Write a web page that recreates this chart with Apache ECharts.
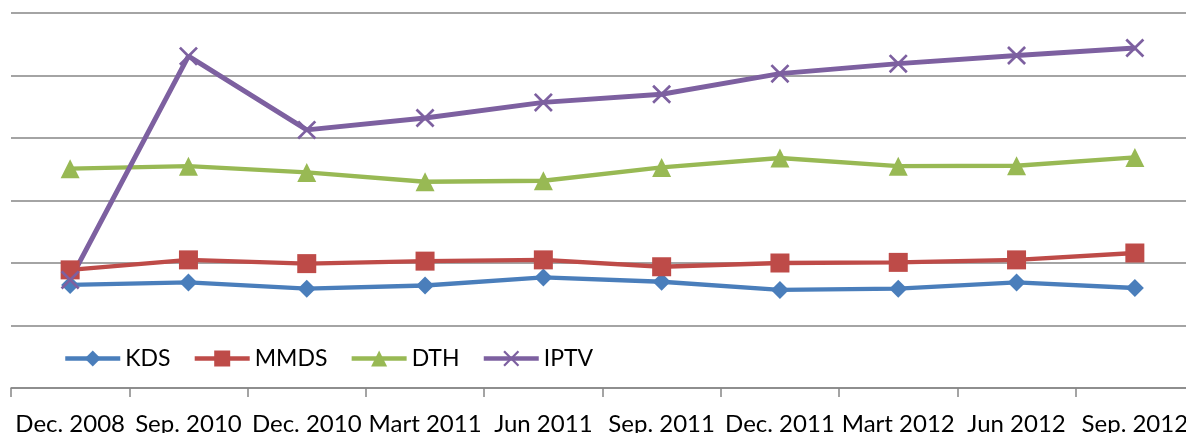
<!DOCTYPE html>
<html><head><meta charset="utf-8">
<script src="https://cdn.jsdelivr.net/npm/echarts@6/dist/echarts.min.js"></script>
<style>html,body{margin:0;padding:0;background:#fff;overflow:hidden}#c{width:1186px;height:433px}</style>
</head><body><div id="c"></div>
<script>
var categories = ['Dec. 2008','Sep. 2010','Dec. 2010','Mart 2011','Jun 2011','Sep. 2011','Dec. 2011','Mart 2012','Jun 2012','Sep. 2012'];
var kds  = [1.65, 1.69, 1.59, 1.64, 1.77, 1.70, 1.57, 1.59, 1.69, 1.60];
var mmds = [1.89, 2.05, 1.99, 2.03, 2.05, 1.94, 2.00, 2.01, 2.05, 2.16];
var dth  = [3.51, 3.55, 3.45, 3.30, 3.315, 3.53, 3.68, 3.55, 3.555, 3.69];
var iptv = [1.73, 5.31, 4.13, 4.32, 4.57, 4.70, 5.03, 5.19, 5.32, 5.44];

var FONT = 'Lato';
var crossPath = 'path://M0,1 L1,0 L5,4 L9,0 L10,1 L6,5 L10,9 L9,10 L5,6 L1,10 L0,9 L4,5 Z';
function mk(name, data, color, symbol, size, width){
  return {name:name, type:'line', data:data, symbol:symbol, symbolSize:size,
    lineStyle:{color:color, width:width}, itemStyle:{color:color},
    animation:false};
}
var chart = echarts.init(document.getElementById('c'), null, {renderer:'canvas'});
chart.setOption({
  animation:false,
  grid:{left:11, top:13, height:375, width:1183, containLabel:false, outerBoundsMode:'none'},
  legend:{left:63, top:347, padding:0, itemWidth:55, itemHeight:20, itemGap:22,
    lineStyle:{width:4.5},
    textStyle:{fontFamily:FONT, fontSize:23, color:'#000'},
    data:['KDS','MMDS','DTH','IPTV']},
  xAxis:{type:'category', data:categories, boundaryGap:true,
    axisLine:{lineStyle:{color:'#868686', width:1.5}},
    axisTick:{show:true, length:9, interval:0, lineStyle:{color:'#868686', width:1.5}},
    axisLabel:{interval:0, margin:24, fontFamily:FONT, fontSize:24, color:'#000'},
    splitLine:{show:false}},
  yAxis:{type:'value', min:0, max:6, interval:1,
    axisLine:{show:false}, axisTick:{show:false}, axisLabel:{show:false},
    splitLine:{lineStyle:{color:'#868686', width:1.5}}},
  series:[
    mk('KDS', kds, '#4A7EBB', 'diamond', 18, 4.5),
    mk('MMDS', mmds, '#BE4B48', 'rect', 19, 4.5),
    mk('DTH', dth, '#98B954', 'triangle', 19, 4.5),
    mk('IPTV', iptv, '#7D60A0', crossPath, 19, 5)
  ]
});
</script></body></html>
